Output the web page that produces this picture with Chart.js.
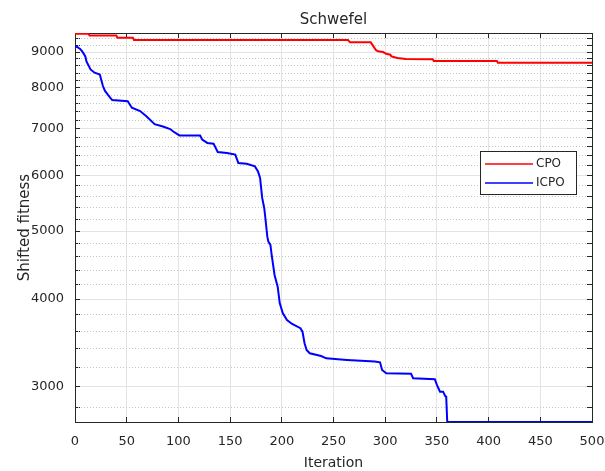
<!DOCTYPE html>
<html>
<head>
<meta charset="utf-8">
<title>Schwefel</title>
<script src="https://cdn.jsdelivr.net/npm/chart.js@4.4.1/dist/chart.umd.min.js"></script>
<style>
  html, body { margin: 0; padding: 0; background: #fff; }
  #chart { display: block; }
</style>
</head>
<body>
<canvas id="chart" width="605" height="471"></canvas>
<script>
// values (iteration -> shifted fitness)
const cpoIter = [0, 13, 14, 40, 41, 56, 57, 264, 266, 286, 288, 291, 293, 298, 301, 305, 306, 310, 312, 320, 346, 347, 408, 409, 500];
const cpoFit  = [9560, 9560, 9500, 9500, 9430, 9430, 9365, 9365, 9290, 9290, 9200, 9060, 9020, 9000, 8947, 8923, 8873, 8840, 8826, 8798, 8790, 8740, 8740, 8690, 8690];

const icpoIter = [0, 2, 5, 7, 10, 11, 15, 19, 24, 27, 29, 34, 36, 51, 55, 63, 69, 77, 85, 92, 95, 101, 121, 123, 128, 134, 138, 147, 155, 158, 166, 174, 177, 179, 181, 183, 184, 186, 187, 189, 190, 193, 196, 198, 201, 205, 210, 218, 220, 222, 224, 227, 238, 243, 263, 290, 295, 297, 301, 325, 327, 348, 350, 353, 356, 358, 359, 360, 500];
const icpoFit  = [9170, 9150, 9090, 9020, 8873, 8735, 8500, 8410, 8360, 8050, 7920, 7750, 7686, 7657, 7497, 7414, 7290, 7103, 7049, 6990, 6934, 6845, 6842, 6752, 6678, 6662, 6483, 6463, 6427, 6250, 6236, 6183, 6082, 5952, 5580, 5395, 5237, 4910, 4830, 4778, 4649, 4330, 4167, 3947, 3818, 3735, 3686, 3635, 3594, 3460, 3385, 3348, 3318, 3293, 3276, 3258, 3250, 3170, 3136, 3131, 3085, 3075, 3018, 2952, 2952, 2910, 2904, 2672, 2672];

const xTicks = [0, 50, 100, 150, 200, 250, 300, 350, 400, 450, 500];
const yMajorTicks = [3000, 4000, 5000, 6000, 7000, 8000, 9000];
const yMinorTicks = [2800, 3200, 3400, 3600, 3800, 4200, 4400, 4600, 4800, 5200, 5400, 5600, 5800,
                     6200, 6400, 6600, 6800, 7200, 7400, 7600, 7800, 8200, 8400, 8600, 8800, 9200, 9400];
const yMin = 2672, yMax = 9580;

const INK = '#262626';
Chart.defaults.font.family = '"DejaVu Sans", sans-serif';
Chart.defaults.color = INK;

const toPoints = (xs, ys) => xs.map((x, i) => ({ x: x, y: ys[i] }));
const allYTicks = [...yMajorTicks, ...yMinorTicks].sort((a, b) => a - b);
const isMajor = v => yMajorTicks.includes(v);

// legend drawn inside the axes like the matlab one
const legendBox = {
    id: 'legendBox',
    afterDraw(chart) {
        const { ctx, chartArea } = chart;
        const w = 96, h = 43;
        const x0 = Math.round(chartArea.right - 16.5 - w), y0 = Math.round(chartArea.top + 118);
        ctx.save();
        ctx.fillStyle = '#fff';
        ctx.fillRect(x0, y0, w, h);
        ctx.strokeStyle = INK;
        ctx.lineWidth = 1;
        ctx.strokeRect(x0 + 0.5, y0 + 0.5, w, h);
        ctx.font = '12px "DejaVu Sans"';
        ctx.textBaseline = 'middle';
        chart.data.datasets.forEach((ds, i) => {
            const yy = y0 + 13 + i * 19;
            ctx.strokeStyle = ds.borderColor;
            ctx.lineWidth = 1.5;
            ctx.beginPath();
            ctx.moveTo(x0 + 5, yy);
            ctx.lineTo(x0 + 53, yy);
            ctx.stroke();
            ctx.fillStyle = INK;
            ctx.fillText(ds.label, x0 + 56, yy);
        });
        ctx.restore();
    }
};

new Chart(document.getElementById('chart'), {
    type: 'line',
    data: {
        datasets: [
            { label: 'CPO', data: toPoints(cpoIter, cpoFit), borderColor: '#ff0000', borderWidth: 2, pointRadius: 0, tension: 0, fill: false },
            { label: 'ICPO', data: toPoints(icpoIter, icpoFit), borderColor: '#0000ff', borderWidth: 2, pointRadius: 0, tension: 0, fill: false }
        ]
    },
    options: {
        responsive: false,
        animation: false,
        events: [],
        layout: { padding: 0 },
        plugins: {
            legend: { display: false },
            tooltip: { enabled: false },
            title: {
                display: true, text: 'Schwefel', color: INK, fullSize: false,
                font: { size: 15, weight: 'normal' }, padding: { top: 11, bottom: 4 }
            }
        },
        scales: {
            x: {
                type: 'linear', position: 'bottom', min: 0, max: 500,
                afterBuildTicks: s => { s.ticks = xTicks.map(v => ({ value: v })); },
                // fixed height, and no extra side padding for the end labels
                afterFit: s => { s.height = 49; s.paddingLeft = 0; s.paddingRight = 0; },
                ticks: { autoSkip: false, maxRotation: 0, padding: 17, color: INK, font: { size: 13 }, callback: v => String(v) },
                grid: { color: '#e3e3e3', tickLength: -5, tickColor: INK },
                border: { color: INK },
                title: { display: true, text: 'Iteration', color: INK, font: { size: 14 }, padding: { top: 0, bottom: -1 } }
            },
            xTop: {
                type: 'linear', position: 'top', min: 0, max: 500,
                afterBuildTicks: s => { s.ticks = xTicks.map(v => ({ value: v })); },
                afterFit: s => { s.height = 0; s.paddingLeft = 0; s.paddingRight = 0; },
                ticks: { display: false },
                grid: { drawOnChartArea: false, tickLength: -5, tickColor: INK },
                border: { color: INK }
            },
            y: {
                type: 'logarithmic', position: 'left', min: yMin, max: yMax,
                afterBuildTicks: s => { s.ticks = allYTicks.map(v => ({ value: v })); },
                afterFit: s => { s.width = 75; },
                ticks: { autoSkip: false, padding: 16, color: INK, font: { size: 13 }, callback: v => isMajor(v) ? String(v) : '' },
                grid: {
                    color: c => (c.tick && isMajor(c.tick.value)) ? '#e3e3e3' : 'rgba(0,0,0,0)',
                    tickLength: -5, tickColor: INK
                },
                border: { color: INK },
                title: { display: true, text: 'Shifted fitness', color: INK, font: { size: 15 }, padding: { top: 16, bottom: 0 } }
            },
            yRight: {
                type: 'logarithmic', position: 'right', min: yMin, max: yMax,
                afterBuildTicks: s => { s.ticks = allYTicks.map(v => ({ value: v })); },
                afterFit: s => { s.width = 13; },
                ticks: { display: false },
                grid: {
                    color: c => (c.tick && !isMajor(c.tick.value)) ? '#c4c4c4' : 'rgba(0,0,0,0)',
                    tickLength: -5, tickColor: INK
                },
                border: { color: INK, dash: [1, 2] }
            }
        }
    },
    plugins: [legendBox]
});
</script>
</body>
</html>
